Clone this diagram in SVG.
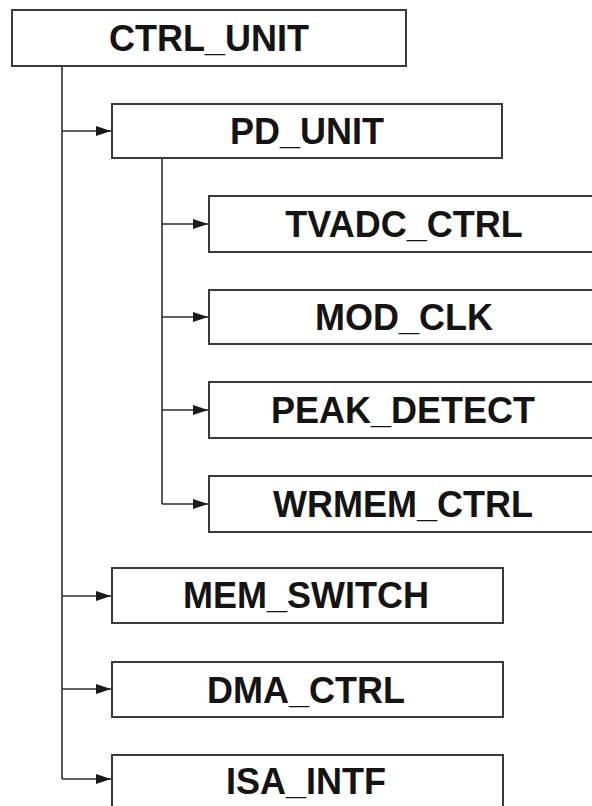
<svg xmlns="http://www.w3.org/2000/svg" width="592" height="806" viewBox="0 0 592 806">
<style>
.box{fill:#fff;stroke:#3a3a3a;stroke-width:2}
.lbl{font-family:"Liberation Sans",Arial,sans-serif;font-weight:bold;font-size:36px;fill:#141414;text-anchor:middle}
.ln{fill:none;stroke:#2e2e2e;stroke-width:1.6}
</style>
<defs>
<marker id="arr" viewBox="0 0 15 10" refX="15" refY="5" markerWidth="15" markerHeight="10" markerUnits="userSpaceOnUse" orient="auto">
<path d="M0,0 L15,5 L0,10 Z" fill="#1a1a1a"/>
</marker>
</defs>
<rect width="592" height="806" fill="#fff"/>
<g id="connectors">
<path class="ln" d="M62,66 V779"/>
<path class="ln" d="M162,158 V504"/>
<path class="ln" d="M62,131 H111" marker-end="url(#arr)"/>
<path class="ln" d="M162,224 H208" marker-end="url(#arr)"/>
<path class="ln" d="M162,317 H208" marker-end="url(#arr)"/>
<path class="ln" d="M162,410 H208" marker-end="url(#arr)"/>
<path class="ln" d="M162,504 H208" marker-end="url(#arr)"/>
<path class="ln" d="M62,596 H111" marker-end="url(#arr)"/>
<path class="ln" d="M62,689 H111" marker-end="url(#arr)"/>
<path class="ln" d="M62,779 H111" marker-end="url(#arr)"/>
</g>
<g id="ctrl_unit"><rect class="box" x="12" y="10" width="394" height="56"/><text class="lbl" x="209" y="51">CTRL_UNIT</text></g>
<g id="pd_unit"><rect class="box" x="112" y="104" width="390" height="54"/><text class="lbl" x="307" y="144">PD_UNIT</text></g>
<g id="tvadc_ctrl"><rect class="box" x="209" y="196" width="392" height="56"/><text class="lbl" x="404" y="237">TVADC_CTRL</text></g>
<g id="mod_clk"><rect class="box" x="209" y="290" width="392" height="54"/><text class="lbl" x="404" y="330">MOD_CLK</text></g>
<g id="peak_detect"><rect class="box" x="209" y="382" width="392" height="56"/><text class="lbl" x="403" y="423">PEAK_DETECT</text></g>
<g id="wrmem_ctrl"><rect class="box" x="209" y="476" width="392" height="56"/><text class="lbl" x="403" y="517">WRMEM_CTRL</text></g>
<g id="mem_switch"><rect class="box" x="112" y="568" width="391" height="55"/><text class="lbl" x="306" y="608">MEM_SWITCH</text></g>
<g id="dma_ctrl"><rect class="box" x="112" y="662" width="391" height="55"/><text class="lbl" x="306" y="703">DMA_CTRL</text></g>
<g id="isa_intf"><rect class="box" x="112" y="755" width="391" height="60"/><text class="lbl" x="306" y="794">ISA_INTF</text></g>
</svg>
